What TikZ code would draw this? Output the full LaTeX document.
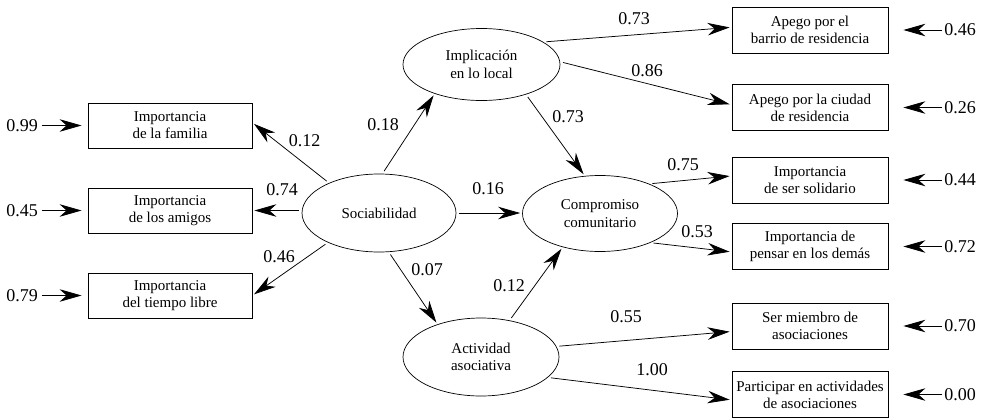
\documentclass[tikz,border=0pt]{standalone}
\usepackage{fontspec}
\setmainfont{Liberation Serif}
\usetikzlibrary{arrows.meta,shapes.geometric,calc}
\begin{document}
\begin{tikzpicture}[x=1pt,y=-1pt,
  box/.style={draw,line width=0.8pt,minimum width=164pt,minimum height=45pt,align=center,inner sep=0pt,font=\fontsize{15}{17}\selectfont},
  rbox/.style={box,minimum width=156pt,minimum height=46pt},
  lat/.style={draw,ellipse,line width=0.7pt,inner sep=0pt,align=center,font=\fontsize{15}{17.5}\selectfont},
  lab/.style={inner sep=0pt,font=\fontsize{18}{20}\selectfont},
  arr/.style={-{Stealth[length=22pt,width=12.5pt,inset=7pt]},line width=0.75pt,shorten <=3pt,shorten >=2pt}]
\useasboundingbox (0,0) rectangle (983,418);
% left boxes
\node[box] (fam) at (170,125.5) {Importancia\\de la familia};
\node[box] (ami) at (170,210.5) {Importancia\\de los amigos};
\node[box] (tie) at (170,295.5) {Importancia\\del tiempo libre};
% latent variables
\node[lat,minimum width=154pt,minimum height=78pt] (soc) at (379,213) {Sociabilidad};
\node[lat,minimum width=157pt,minimum height=72pt] (imp) at (481.5,64.5) {Implicación\\en lo local};
\node[lat,minimum width=155pt,minimum height=76pt] (com) at (600,213.5) {Compromiso\\comunitario};
\node[lat,minimum width=156pt,minimum height=78pt] (act) at (481,357) {Actividad\\asociativa};
% right boxes
\node[rbox] (r1) at (810,30) {Apego por el\\barrio de residencia};
\node[rbox] (r2) at (810,107.5) {Apego por la ciudad\\de residencia};
\node[rbox] (r3) at (810,180) {Importancia\\de ser solidario};
\node[rbox] (r4) at (810,246.5) {Importancia de\\pensar en los demás};
\node[rbox] (r5) at (810,326) {Ser miembro de\\asociaciones};
\node[rbox] (r6) at (810,394.5) {Participar en actividades\\de asociaciones};
% structural arrows
\draw[arr] (soc.149) -- (fam.2);
\draw[arr] (soc.west |- ami.east) -- (ami.east);
\draw[arr] (soc.210) -- (tie.0);
\draw[arr] (soc.85) -- (imp.212);
\draw[arr] (soc.east) -- (soc.east -| com.west);
\draw[arr] (soc.284) -- (act.143);
\draw[arr] (imp.326) -- (com.112);
\draw[arr] (act.52) -- (com.222);
\draw[arr] (imp.20) -- (r1.178);
\draw[arr] (imp.2) -- (r2.178);
\draw[arr] (com.31) -- (r3.177);
\draw[arr] (com.330) -- (r4.184);
\draw[arr] (act.8) -- (r5.184);
\draw[arr] (act.343) -- (r6.184);
% path coefficients
\node[lab] (c1) at (304.5,141) {0.12};
\node[lab] (c2) at (282,190) {0.74};
\node[lab] (c3) at (279,257) {0.46};
\node[lab] (c4) at (383,125) {0.18};
\node[lab] (c5) at (568,117) {0.73};
\node[lab] (c6) at (634,19) {0.73};
\node[lab] (c7) at (647,71) {0.86};
\node[lab] (c8) at (488,189) {0.16};
\node[lab] (c9) at (427,270) {0.07};
\node[lab] (c10) at (509,286) {0.12};
\node[lab] (c11) at (626,317) {0.55};
\node[lab] (c12) at (652,370) {1.00};
\node[lab] (c13) at (683,165) {0.75};
\node[lab] (c14) at (697,232) {0.53};
% error terms left
\node[lab] (e1) at (22,125.5) {0.99};
\node[lab] (e2) at (22,210.5) {0.45};
\node[lab] (e3) at (22,295.5) {0.79};
\draw[arr,shorten <=4pt,shorten >=6pt] (e1.east) -- (fam.west);
\draw[arr,shorten <=4pt,shorten >=6pt] (e2.east) -- (ami.west);
\draw[arr,shorten <=4pt,shorten >=6pt] (e3.east) -- (tie.west);
% error terms right
\node[lab] (f1) at (960,30) {0.46};
\node[lab] (f2) at (960,107.5) {0.26};
\node[lab] (f3) at (960,180) {0.44};
\node[lab] (f4) at (960,246.5) {0.72};
\node[lab] (f5) at (960,326) {0.70};
\node[lab] (f6) at (960,394.5) {0.00};
\draw[arr,shorten <=2pt,shorten >=15pt] (f1.west) -- (r1.east);
\draw[arr,shorten <=2pt,shorten >=15pt] (f2.west) -- (r2.east);
\draw[arr,shorten <=2pt,shorten >=15pt] (f3.west) -- (r3.east);
\draw[arr,shorten <=2pt,shorten >=15pt] (f4.west) -- (r4.east);
\draw[arr,shorten <=2pt,shorten >=15pt] (f5.west) -- (r5.east);
\draw[arr,shorten <=2pt,shorten >=15pt] (f6.west) -- (r6.east);
\end{tikzpicture}
\end{document}
